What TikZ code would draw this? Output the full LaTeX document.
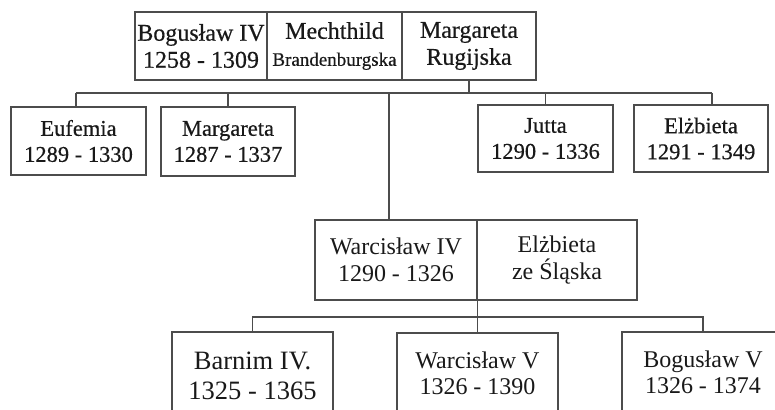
\documentclass[tikz,border=0pt]{standalone}
\usepackage{fontspec}
\setmainfont{Liberation Serif}
\newfontfamily\heavyfont[FakeBold=0.5]{Liberation Serif}
\begin{document}
\begin{tikzpicture}[x=1pt, y=-1pt]
    \tikzstyle{box}=[draw=black!70, line width=1.2pt, inner sep=0pt, align=center, text=black!90, font=\fontsize{24}{27}\selectfont]
    \tikzstyle{top}=[box, minimum height=68pt, font=\heavyfont\fontsize{24}{27}\selectfont]
    \tikzstyle{kid}=[box, minimum width=135pt, minimum height=68pt, font=\heavyfont\fontsize{22.5}{26}\selectfont]
    \tikzstyle{grand}=[box, minimum width=161pt, minimum height=80pt, font=\fontsize{24}{26}\selectfont]
    \tikzstyle{link}=[draw=black!70, line width=1.2pt]
    \useasboundingbox[fill=white] (0,0) rectangle (775,409);
    % parents
    \node[top, minimum width=132pt] (p1) at (201,46) {Bogusław IV\\1258 - 1309};
    \node[top, minimum width=135pt] (p2) at (334.5,46) {Mechthild\\{\fontsize{19}{26}\selectfont Brandenburgska}};
    \node[top, minimum width=134pt] (p3) at (469,46) {Margareta\\Rugijska};
    % children
    \node[kid] (c1) at (78.5,141) {Eufemia\\1289 - 1330};
    \node[kid, minimum width=134pt, minimum height=69pt] (c2) at (228,141.5) {Margareta\\1287 - 1337};
    \node[kid, minimum height=67pt] (c3) at (545.5,138.5) {Jutta\\1290 - 1336};
    \node[kid, minimum width=134pt, minimum height=67pt] (c4) at (701,138.5) {Elżbieta\\1291 - 1349};
    % couple
    \node[box, minimum width=162pt, minimum height=80pt] (m1) at (396,260) {Warcisław IV\\1290 - 1326};
    \node[box, minimum width=160pt, minimum height=80pt] (m2) at (557,260) {Elżbieta\\ze Śląska};
    % grandchildren
    \node[grand, minimum height=88pt, font=\fontsize{26.5}{30}\selectfont] (g1) at (252.5,376) {Barnim IV.\\1325 - 1365};
    \node[grand] (g2) at (477.5,373) {Warcisław V\\1326 - 1390};
    \node[grand, minimum width=162pt] (g3) at (703,372) {Bogusław V\\1326 - 1374};
    % first bus
    \coordinate (b1) at (76,93);
    \coordinate (b2) at (712,93);
    \coordinate (b3) at (389,93);
    \draw[link] (p3.south) -- (p3.south |- b1);
    \draw[link] (b1) -- (b2);
    \draw[link] (b1) -- (b1 |- c1.north);
    \draw[link] (c2.north |- b1) -- (c2.north);
    \draw[link] (b3) -- (b3 |- m1.north);
    \draw[link] (c3.north |- b1) -- (c3.north);
    \draw[link] (b2) -- (b2 |- c4.north);
    % second bus
    \coordinate (b4) at (0,317);
    \draw[link] (m1.south east) -- (m1.south east |- g2.north);
    \draw[link] (g1.north) -- (g1.north |- b4) -- (g3.north |- b4) -- (g3.north);
\end{tikzpicture}
\end{document}
